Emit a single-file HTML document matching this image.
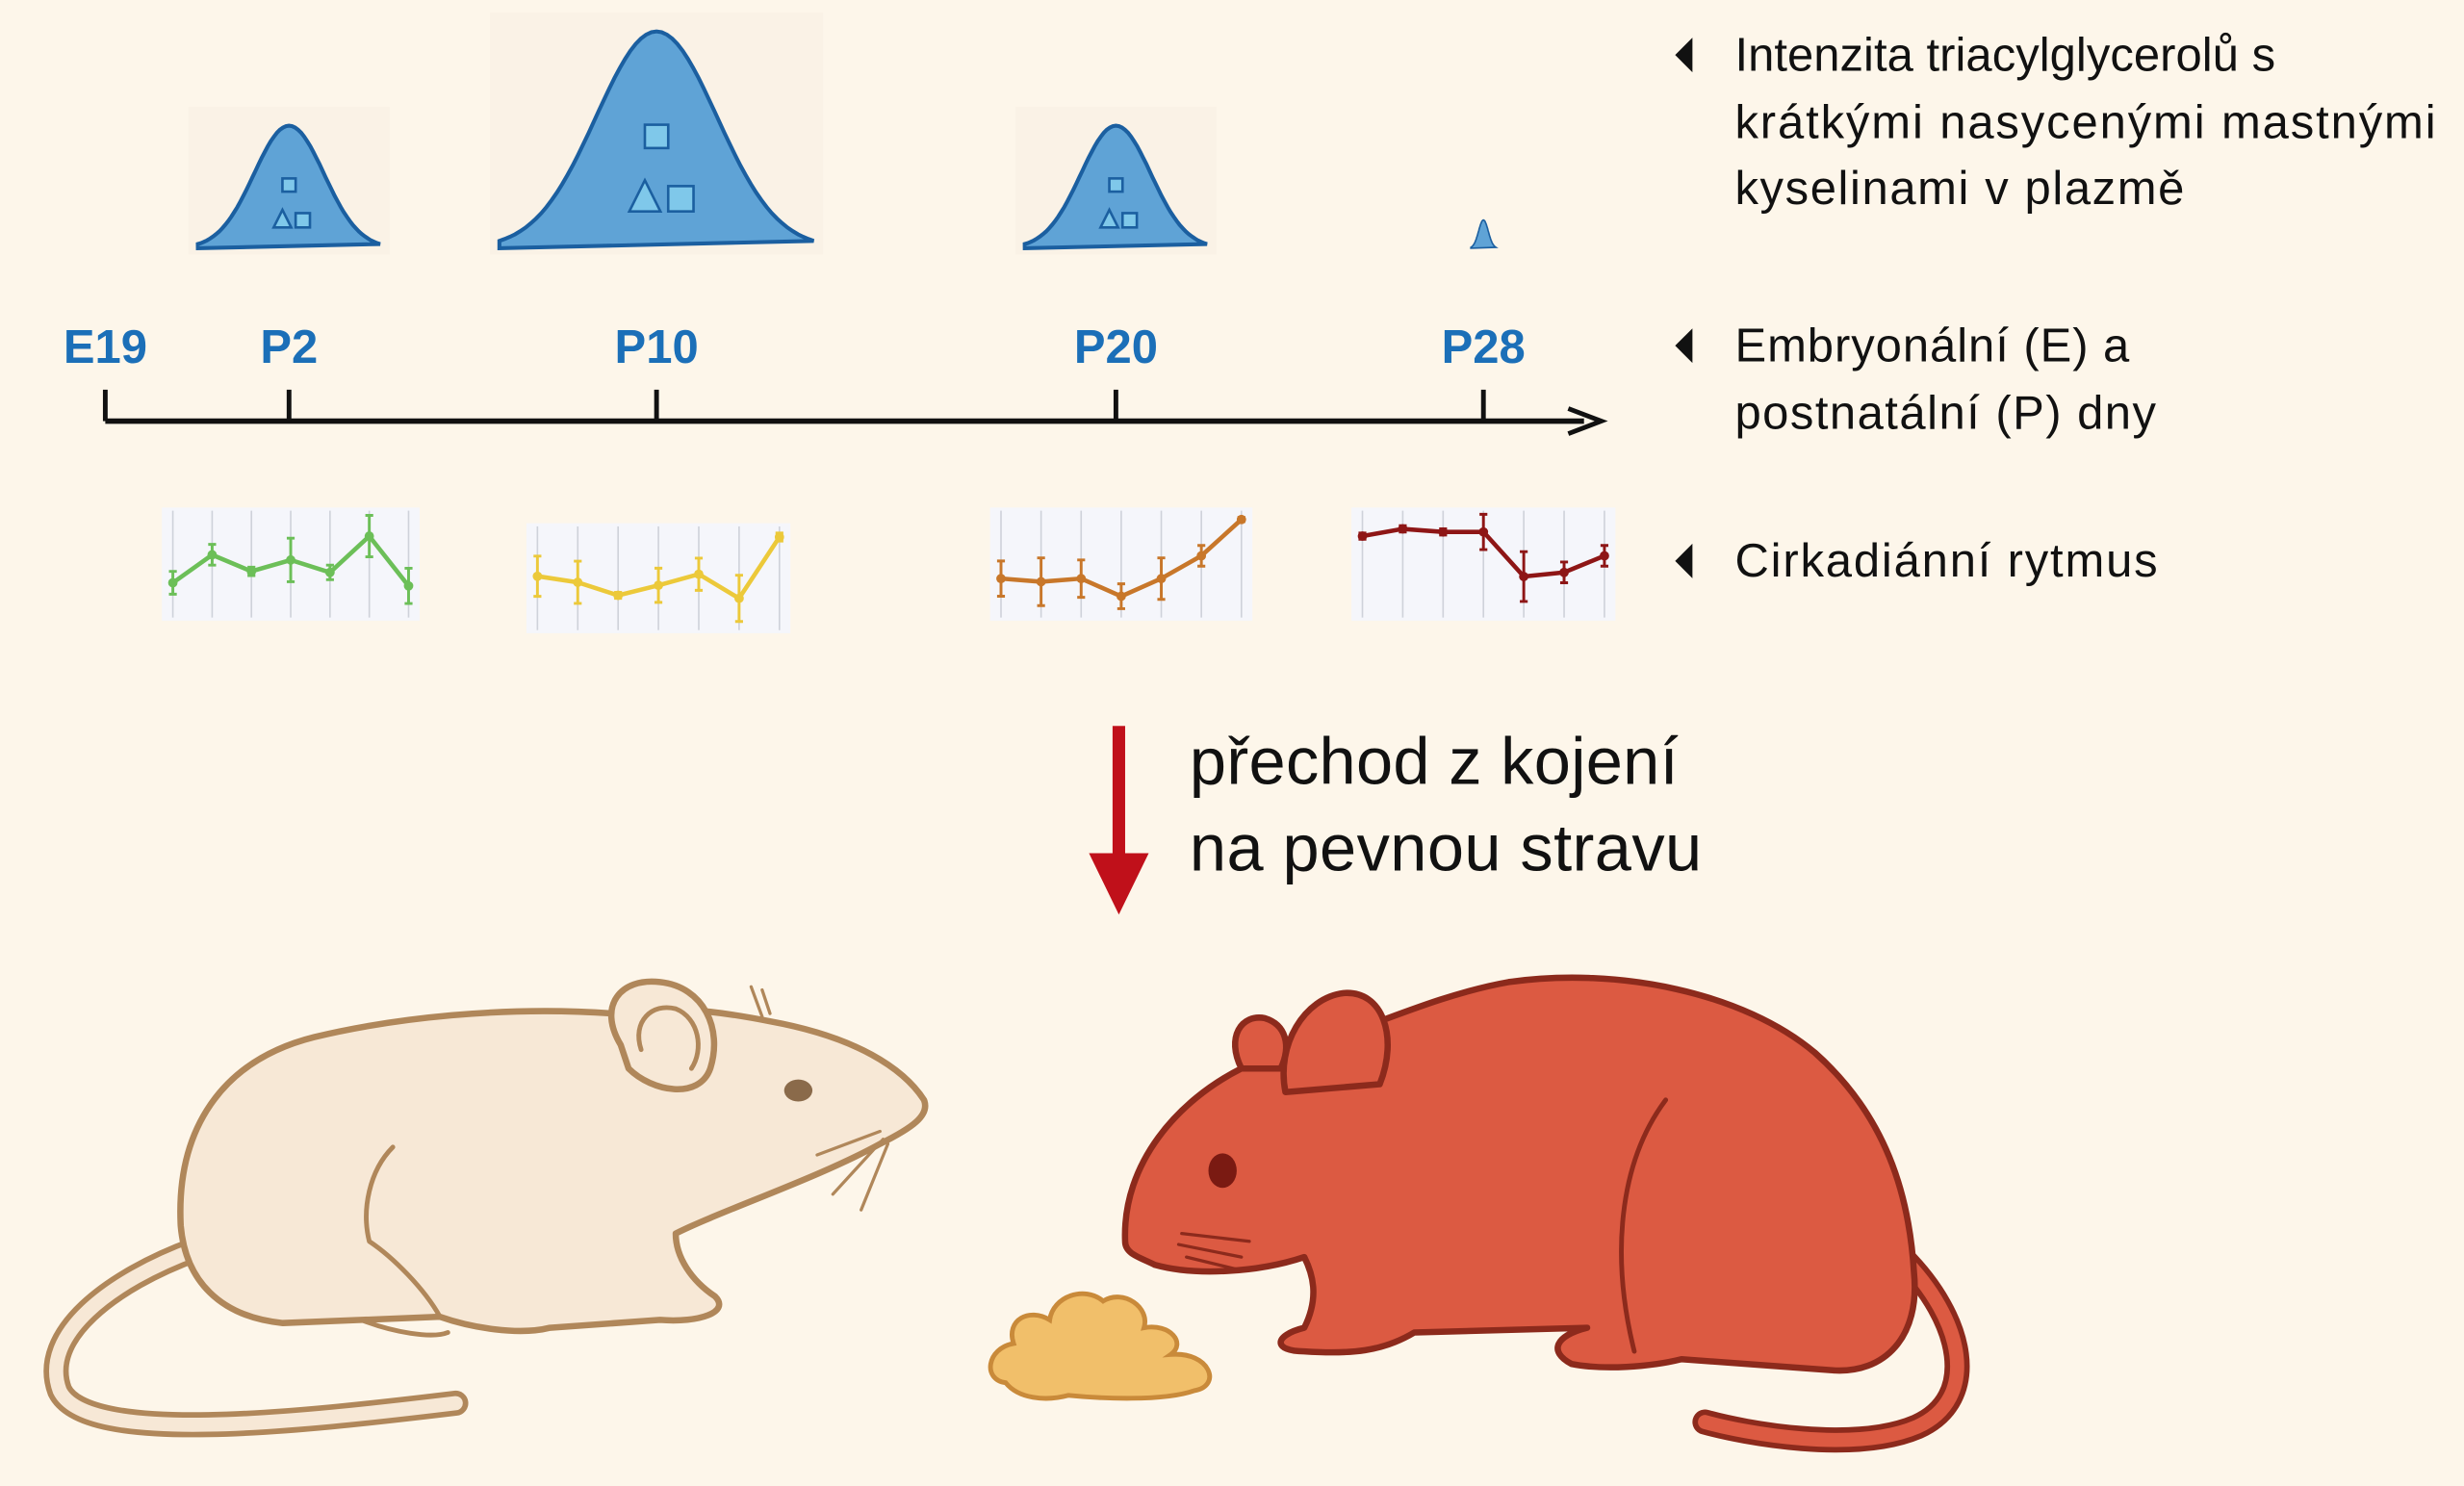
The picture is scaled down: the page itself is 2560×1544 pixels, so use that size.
<!DOCTYPE html>
<html><head><meta charset="utf-8"><style>
html,body{margin:0;padding:0;background:#fdf6ea;}
svg{display:block;}
text{font-family:"Liberation Sans",sans-serif;}
</style></head><body>
<svg id="fig" width="2560" height="1544" viewBox="0 0 1568 945.7" preserveAspectRatio="none" xmlns="http://www.w3.org/2000/svg">
<rect width="1568" height="946" fill="#fdf6ea"/>
<g id="peaks"></g>
<g id="timeline">
  <line x1="67" y1="268" x2="1008" y2="268" stroke="#111" stroke-width="3.5"/>
  <path d="M998,260 L1019,268 L998,276" fill="none" stroke="#111" stroke-width="3"/>
</g>
<g id="minis"></g>

<g font-size="30" fill="#111">
  <path d="M1077,24 L1066,35 L1077,46 Z" fill="#111"/>
  <text x="1104" y="45" textLength="344">Intenzita triacylglycerolů s</text>
  <text x="1104" y="88" textLength="446">krátkými nasycenými mastnými</text>
  <text x="1104" y="130" textLength="286">kyselinami v plazmě</text>
  <path d="M1077,209 L1066,220 L1077,231 Z" fill="#111"/>
  <text x="1104" y="230" textLength="251">Embryonální (E) a</text>
  <text x="1104" y="273" textLength="268">postnatální (P) dny</text>
  <path d="M1077,346 L1066,357 L1077,368 Z" fill="#111"/>
  <text x="1104" y="367" textLength="269">Cirkadiánní rytmus</text>
</g>

<g>
  <rect x="708" y="462" width="8" height="85" fill="#c0101a"/>
  <path d="M693,543 L731,543 L712,582 Z" fill="#c0101a"/>
</g>
<text x="757" y="499" font-size="42" textLength="311" fill="#111">přechod z kojení</text>
<text x="757" y="554" font-size="42" textLength="326" fill="#111">na pevnou stravu</text>

<g stroke="#b0875a" stroke-width="4" stroke-linejoin="round" stroke-linecap="round">
  <path d="M125,795 C70,815 25,850 38,885 C55,920 190,905 290,893" fill="none" stroke="#b0875a" stroke-width="16"/>
  <path d="M125,795 C70,815 25,850 38,885 C55,920 190,905 290,893" fill="none" stroke="#f7e8d6" stroke-width="9"/>
  <path d="M588,700 C575,680 545,660 490,650 C450,642 420,640 390,645 C320,640 250,648 200,660 C140,675 112,720 115,780 C118,815 140,838 180,842 L280,838 C300,845 330,850 350,845 L420,840 C445,842 465,835 455,825 C440,815 430,800 430,785 C460,770 520,750 560,728 C580,718 592,710 588,700 Z" fill="#f7e8d6"/>
  <path d="M395,665 C380,640 395,622 420,625 C448,628 460,655 452,680 C445,700 415,695 400,680 Z" fill="#f7e8d6"/>
  <path d="M408,668 C402,650 415,638 430,642 C445,648 448,668 440,680" fill="none" stroke-width="3"/>
  <path d="M280,838 C270,820 250,800 235,790 C230,770 235,745 250,730" fill="none" stroke-width="3"/>
  <path d="M230,840 C250,848 275,852 285,848" fill="none" stroke-width="3"/>
  <path d="M485,630 L490,645 M478,628 L485,647" fill="none" stroke-width="2"/>
  <path d="M560,720 L520,735 M562,725 L530,760 M565,728 L548,770" fill="none" stroke-width="2"/>
  <ellipse cx="508" cy="694" rx="9" ry="7" fill="#8a6a4a" stroke="none"/>
</g>

<g stroke="#8c2a1c" stroke-width="4" stroke-linejoin="round" stroke-linecap="round">
  <path d="M1210,800 C1250,840 1260,890 1220,908 C1180,925 1110,912 1085,905" fill="none" stroke="#8c2a1c" stroke-width="16"/>
  <path d="M1210,800 C1250,840 1260,890 1220,908 C1180,925 1110,912 1085,905" fill="none" stroke="#dc5a42" stroke-width="9"/>
  <path d="M716,790 C714,740 750,700 790,680 C800,665 820,660 845,662 C880,650 920,632 960,625 C1030,615 1110,632 1155,670 C1200,710 1215,760 1218,810 C1222,850 1200,875 1165,872 L1070,865 C1050,870 1020,872 1000,868 C985,860 990,850 1010,845 L900,848 C880,860 860,862 830,860 C810,860 810,850 830,845 C840,825 835,810 830,800 C800,810 760,812 735,805 C725,800 716,798 716,790 Z" fill="#dc5a42"/>
  <path d="M790,680 C780,660 790,645 805,648 C818,652 822,665 815,680 Z" fill="#dc5a42"/>
  <path d="M818,695 C812,665 830,635 855,632 C880,630 890,660 878,690 Z" fill="#dc5a42"/>
  <path d="M1060,700 C1030,740 1025,800 1040,860" fill="none" stroke-width="3"/>
  <path d="M752,785 L795,790 M750,792 L790,800 M755,800 L788,808" fill="none" stroke-width="2"/>
  <ellipse cx="778" cy="745" rx="9" ry="11" fill="#7a1a12" stroke="none"/>
</g>
<path d="M640,880 C625,878 628,858 645,855 C640,840 655,832 668,840 C670,825 690,818 702,828 C715,820 732,832 728,845 C745,842 755,855 745,862 C770,860 778,882 760,885 C740,892 700,890 680,888 C665,892 648,890 640,880 Z" fill="#f1bf6a" stroke="#c98a3a" stroke-width="3"/>
</svg>
<script>
var NS='http://www.w3.org/2000/svg';
// timeline
var dayLabels=['E19','P2','P10','P20','P28'];
var dayValues=[-2,2,10,20,28];
// TAG intensity peaks (relative height), P2, P10, P20, P28
var peakDays=[2,10,20,28];
var peakHeights=[78,138,78,18];
var peakWidths=[58,100,58,8];
// circadian series (7 timepoints each)
var greenVals=[3.2,5.9,4.3,5.4,4.2,7.7,2.9];
var greenErr=[1.1,1.0,0.4,2.1,0.7,2.0,1.7];
var yellowVals=[5.2,4.6,3.3,4.3,5.4,3.0,9.1];
var yellowErr=[2.0,2.1,0.3,1.7,1.6,2.3,0.4];
var orangeVals=[3.6,3.3,3.6,1.9,3.6,5.8,9.3];
var orangeErr=[1.7,2.3,1.8,1.2,2.0,1.0,0.2];
var redVals=[7.7,8.4,8.1,8.1,3.8,4.2,5.8];
var redErr=[0.3,0.3,0.3,1.7,2.4,1.0,1.0];

function xDay(d){return 67+(d+2)*(944-67)/30;}
function mk(tag,attrs,parent){var e=document.createElementNS(NS,tag);for(var k in attrs)e.setAttribute(k,attrs[k]);parent.appendChild(e);return e;}

var tl=document.getElementById('timeline');
dayLabels.forEach(function(l,i){
  var x=xDay(dayValues[i]);
  var t=mk('line',{x1:x,y1:248,x2:x,y2:268,stroke:'#111','stroke-width':3},tl);
  
  
  var tx=mk('text',{x:x,y:231,'text-anchor':'middle','font-size':30,'font-weight':'bold',fill:'#1b6fb8'},tl);
  tx.textContent=l;
  
  
});

var pk=document.getElementById('peaks');
var base=158;
peakDays.forEach(function(d,i){
  var cx=xDay(d),h=peakHeights[i],w=peakWidths[i],s=w/2.6;
  var g=mk('g',{},pk);
  
  
  if(w>20) mk('rect',{x:cx-w-6,y:base-h-12,width:2*w+12,height:h+16,fill:'#faf2e6'},g);
  var p='M'+(cx-w)+','+base;
  for(var k=0;k<=60;k++){var x=-w+2*w*k/60;var y=base-h*Math.exp(-x*x/(2*s*s));p+=' L'+(cx+x).toFixed(1)+','+y.toFixed(1);}
  p+=' Z';
  mk('path',{d:p,fill:'#5fa3d6',stroke:'#1b5fa0','stroke-width':w>20?2.5:1},g);
  if(w>20){
    var u=h/78*7;
    mk('rect',{x:cx-u*0.6,y:base-h*0.48-u,width:u*1.2,height:u*1.2,fill:'#7fc8ea',stroke:'#1b5fa0','stroke-width':1.6},g);
    mk('path',{d:'M'+(cx-u*1.4)+','+(base-h*0.17)+' l'+u*0.8+','+(-u*1.6)+' l'+u*0.8+','+u*1.6+' Z',fill:'#7fc8ea',stroke:'#1b5fa0','stroke-width':1.6},g);
    mk('rect',{x:cx+u*0.6,y:base-h*0.17-u*1.3,width:u*1.3,height:u*1.3,fill:'#7fc8ea',stroke:'#1b5fa0','stroke-width':1.6},g);
  }
});

var mn=document.getElementById('minis');
var charts=[
 {name:'green',vals:greenVals,err:greenErr,col:'#6cbf58',x0:103,y0:323,w:164,h:72},
 {name:'yellow',vals:yellowVals,err:yellowErr,col:'#ecc93a',x0:335,y0:333,w:168,h:70},
 {name:'orange',vals:orangeVals,err:orangeErr,col:'#c8772a',x0:630,y0:323,w:167,h:72},
 {name:'red',vals:redVals,err:redErr,col:'#8e1616',x0:860,y0:323,w:168,h:72}
];
charts.forEach(function(c){
  var g=mk('g',{},mn);
  
  
  mk('rect',{x:c.x0,y:c.y0,width:c.w,height:c.h,fill:'#f5f6fb'},g);
  var n=c.vals.length,step=(c.w-14)/(n-1),px0=c.x0+7;
  function xs(i){return px0+i*step;}
  function ys(v){return c.y0+c.h-3-(v/10)*(c.h-6);}
  for(var i=0;i<n;i++) mk('line',{x1:xs(i),y1:c.y0+2,x2:xs(i),y2:c.y0+c.h-2,stroke:'#cfd2da','stroke-width':1},g);
  var d='';
  c.vals.forEach(function(v,i){d+=(i?' L':'M')+xs(i).toFixed(1)+','+ys(v).toFixed(1);});
  var ln=mk('path',{d:d,fill:'none',stroke:c.col,'stroke-width':2.8},g);
  
  
  c.vals.forEach(function(v,i){
    var x=xs(i),a=ys(v+c.err[i]),b=ys(v-c.err[i]);
    var e=mk('path',{d:'M'+x+','+a+' L'+x+','+b+' M'+(x-2.5)+','+a+' L'+(x+2.5)+','+a+' M'+(x-2.5)+','+b+' L'+(x+2.5)+','+b,stroke:c.col,'stroke-width':1.8,fill:'none'},g);
    
    
    var pt=mk('circle',{cx:x,cy:ys(v),r:3,fill:c.col},g);
    
    
  });
});
</script>
</body></html>
